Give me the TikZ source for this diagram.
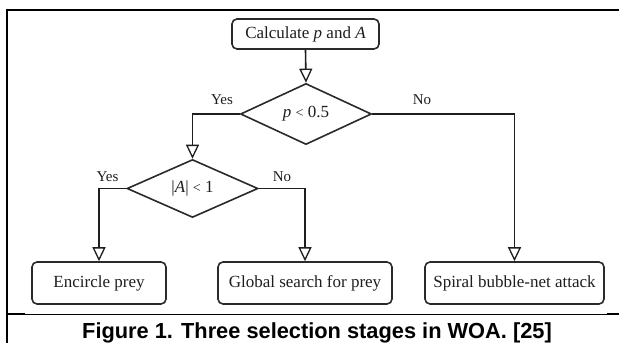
\documentclass[tikz,border=0pt]{standalone}
\usepackage{fontspec}
\setmainfont{Liberation Serif}
\newfontfamily\capfont{Liberation Sans}
\usetikzlibrary{shapes.geometric,arrows.meta}
\definecolor{ink}{HTML}{1E1E1E}
\definecolor{edge}{HTML}{2A2A2A}
\tikzset{
  stepbox/.style={draw=edge, line width=1.6pt, rounded corners=5pt, inner sep=0pt,
    fill=white, text=ink, font=\fontsize{17}{17}\selectfont},
  decision/.style={diamond, draw=edge, line width=1.6pt, inner sep=0pt, fill=white,
    text=ink, font=\fontsize{17}{17}\selectfont},
  flow/.style={draw=ink, line width=1.6pt,
    -{Triangle[open, length=14pt, width=13pt, line width=1.3pt]}},
  branch/.style={text=ink, font=\fontsize{15}{15}\selectfont, inner sep=0pt},
  frame/.style={line width=2pt, black},
}
\begin{document}
\begin{tikzpicture}[x=1pt, y=-1pt]
  \useasboundingbox (0,0) rectangle (619,343);
  \fill[white] (0,0) rectangle (619,343);

  % outer rule lines
  \draw[frame] (7,9.5) -- (619,9.5);
  \draw[frame] (7,8.5) -- (7,343);
  \draw[frame] (7,314) -- (25,314);
  \draw[line width=1pt, black] (25,314) -- (607,314);
  \draw[frame] (607,314) -- (619,314);

  % process steps and decisions
  \node[stepbox, minimum width=147pt, minimum height=30pt] (calc) at (305.5,34)
    {Calculate \textit{p} and \textit{A}};
  \node[decision, minimum width=131pt, minimum height=42pt] (pdec) at (306,114)
    {\textit{p} {\fontsize{14}{14}\selectfont<} 0.5};
  \node[decision, minimum width=131pt, minimum height=58pt] (adec) at (192.5,188.5)
    {|\textit{A}| {\fontsize{14}{14}\selectfont<} 1};
  \node[stepbox, minimum width=134pt, minimum height=42pt] (encircle) at (99,283)
    {Encircle prey};
  \node[stepbox, minimum width=174pt, minimum height=42pt] (global) at (305,283)
    {Global search for prey};
  \node[stepbox, minimum width=179pt, minimum height=42pt] (spiral) at (514.5,283)
    {Spiral bubble-net attack};

  % connectors
  \draw[flow] (calc.south) -- (pdec.north);
  \draw[flow] (pdec.west) -| (adec.north);
  \draw[flow] (pdec.east) -| (spiral.north);
  \draw[flow] (adec.west) -| (encircle.north);
  \draw[flow] (adec.east) -| (global.north);

  % branch labels
  \node[branch] (yes1) at (222,100) {Yes};
  \node[branch] (no1) at (422,100) {No};
  \node[branch] (yes2) at (107.5,177) {Yes};
  \node[branch] (no2) at (282,177) {No};

  % caption
  \node[anchor=base, inner sep=0pt, font={\capfont\bfseries\fontsize{21.8}{22}\selectfont}]
    (caption) at (317,338) {Figure 1. Three selection stages in WOA. [25]};
\end{tikzpicture}
\end{document}
